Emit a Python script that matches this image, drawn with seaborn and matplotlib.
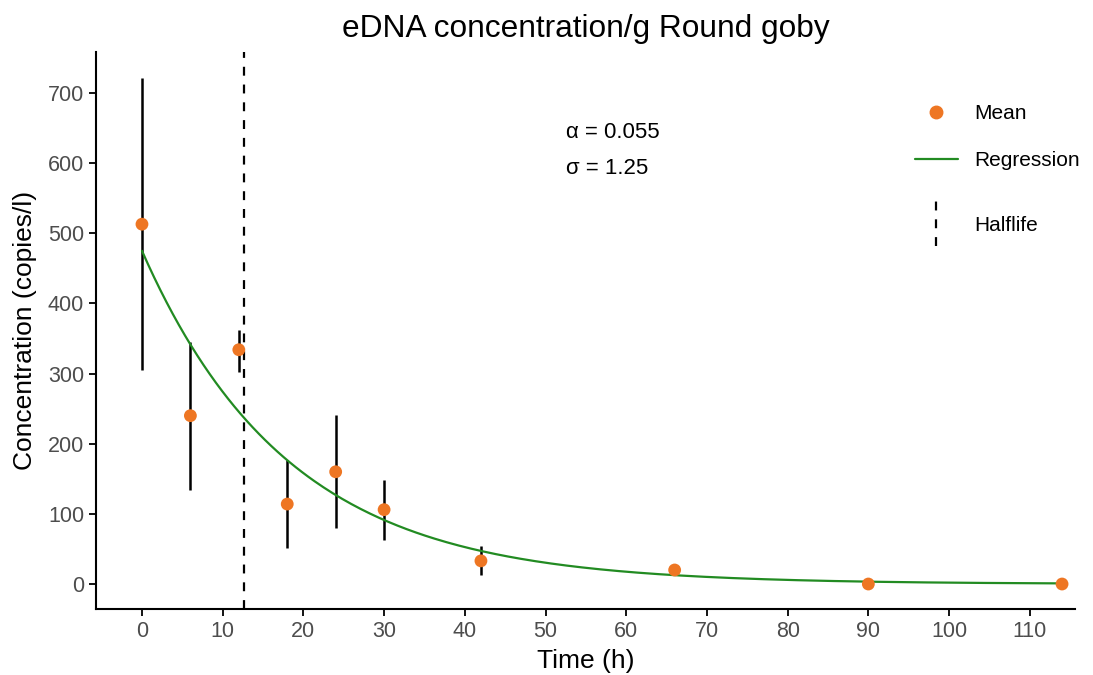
import matplotlib
matplotlib.use("Agg")
import matplotlib.pyplot as plt
from matplotlib.legend_handler import HandlerBase
from matplotlib.lines import Line2D
import numpy as np
import pandas as pd
import seaborn as sns

# measured means and error bar limits (copies/l)
time_h = [0, 6, 12, 18, 24, 30, 42, 66, 90, 114]
mean_conc = [513, 240, 334, 114, 160, 106, 33, 20, 0, 0]
err_low = [305, 134, 302, 51, 80, 63, 13, 20, 0, 0]
err_high = [721, 345, 362, 177, 241, 148, 54, 20, 0, 0]

# fitted exponential decay
alpha = 0.055
sigma = 1.25
n0 = 475
halflife = np.log(2) / alpha

ORANGE = "#EE7623"
GREEN = "#228B22"

sns.set_style("ticks")
plt.rcParams["font.family"] = ["Liberation Sans", "DejaVu Sans"]
plt.rcParams["text.color"] = "black"
plt.rcParams["axes.labelcolor"] = "black"


class VLineHandler(HandlerBase):
    """legend key drawn as a tall vertical dashed line"""
    def create_artists(self, legend, orig, xd, yd, w, h, fontsize, trans):
        x = w / 2 - xd
        yc = h / 2 - yd
        line = Line2D([x, x], [yc - 16, yc + 16], color="black",
                      linestyle=(0, (4, 4)), linewidth=1.6, transform=trans)
        return [line]


df = pd.DataFrame({"time": time_h, "mean": mean_conc})
t_fit = np.linspace(0, 114, 300)
fit = pd.DataFrame({"time": t_fit, "conc": n0 * np.exp(-alpha * t_fit)})

fig = plt.figure(figsize=(10.93, 6.75), dpi=100)
ax = fig.add_axes([0.0878, 0.0978, 0.8957, 0.8252])

ax.vlines(time_h, err_low, err_high, color="black", linewidth=1.8, zorder=2)
ax.axvline(halflife, color="black", linestyle=(0, (4, 4)), linewidth=1.6, zorder=2)
sns.lineplot(data=fit, x="time", y="conc", ax=ax, color=GREEN, linewidth=1.6, zorder=3)
sns.scatterplot(data=df, x="time", y="mean", ax=ax, color=ORANGE, s=85,
                edgecolor="none", zorder=4)

ax.text(52.6, 643, f"α = {alpha}", fontsize=16, va="center", ha="left")
ax.text(52.6, 593, f"σ = {sigma}", fontsize=16, va="center", ha="left")

ax.set_xlim(-5.7, 115.6)
ax.set_ylim(-35.6, 758.5)
ax.set_xticks(range(0, 111, 10))
ax.set_yticks(range(0, 701, 100))
ax.tick_params(axis="both", labelsize=15.5, labelcolor="#4D4D4D", color="black",
               width=1.3, length=5)
for side in ["left", "bottom"]:
    ax.spines[side].set_linewidth(1.5)
    ax.spines[side].set_color("black")
sns.despine(ax=ax)

ax.set_xlabel("Time (h)", fontsize=19, labelpad=5)
ax.set_ylabel("Concentration (copies/l)", fontsize=19, labelpad=8)
ax.set_title("eDNA concentration/g Round goby", fontsize=22.8, pad=11)

h_mean = Line2D([], [], marker="o", linestyle="none", color=ORANGE, markersize=9)
h_reg = Line2D([], [], color=GREEN, linewidth=1.6)
h_half = Line2D([], [], color="black")

leg1 = ax.legend([h_mean, h_reg], ["Mean", "Regression"], loc="center left",
                 bbox_to_anchor=(0.8366, 0.847), frameon=False, fontsize=15,
                 handlelength=2.05, handletextpad=0.8, labelspacing=1.35,
                 borderpad=0, borderaxespad=0)
ax.add_artist(leg1)
ax.legend([h_half], ["Halflife"], loc="center left",
          bbox_to_anchor=(0.8366, 0.689), frameon=False, fontsize=15,
          handlelength=2.05, handletextpad=0.8, borderpad=0, borderaxespad=0,
          handler_map={h_half: VLineHandler()})

fig.savefig("out.png", dpi=100)
